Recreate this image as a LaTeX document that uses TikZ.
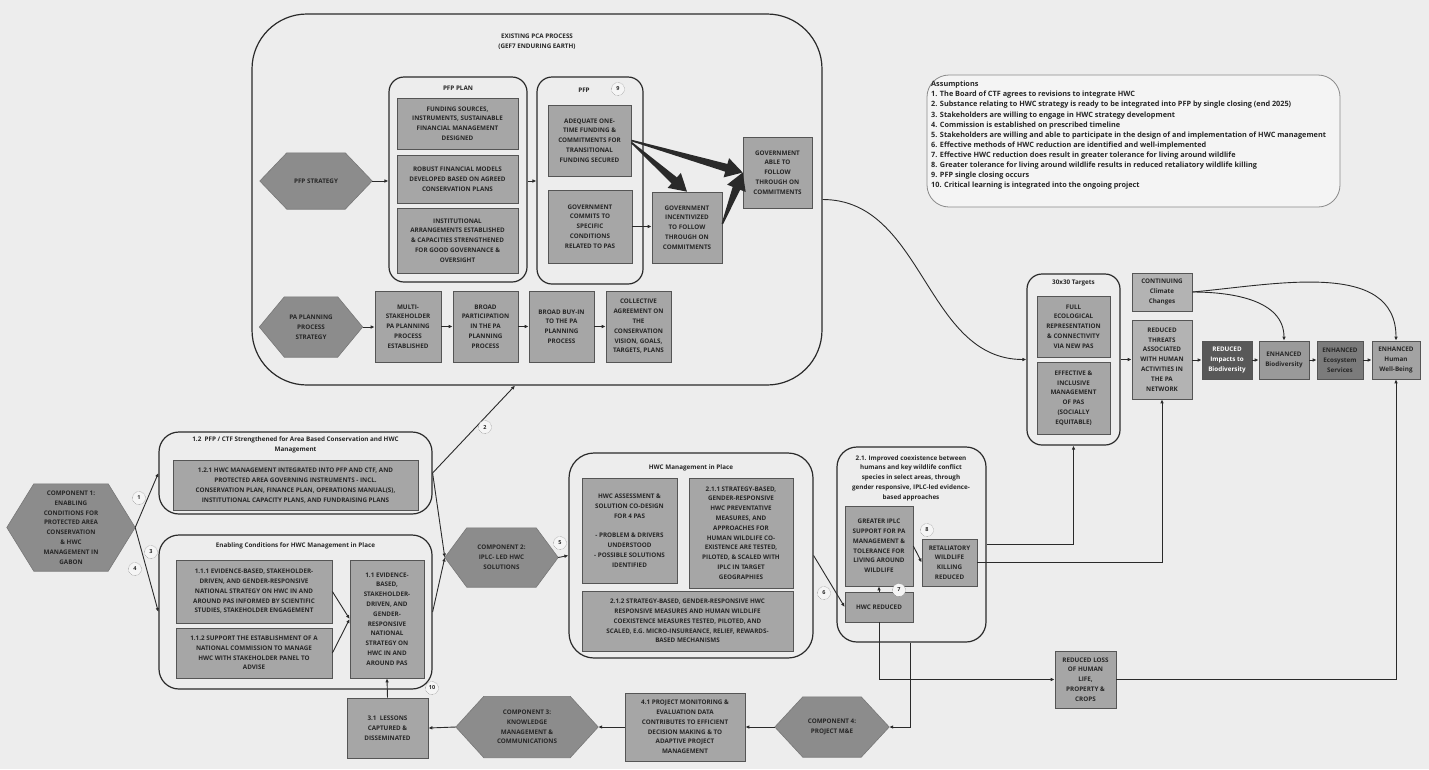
\documentclass[tikz,border=0pt]{standalone}
\usepackage{fontspec}
\setmainfont{Open Sans}
\usetikzlibrary{calc,arrows.meta}
\definecolor{bgc}{HTML}{EDEDED}
\definecolor{boxf}{HTML}{A6A6A6}
\definecolor{boxd}{HTML}{555555}
\definecolor{hexc}{HTML}{8C8C8C}
\definecolor{hexd}{HTML}{777777}
\definecolor{txt}{HTML}{262626}
\definecolor{linec}{HTML}{2A2A2A}
\definecolor{lightf}{HTML}{B3B3B3}
\definecolor{darkf}{HTML}{585858}
\definecolor{midf}{HTML}{9A9A9A}
\definecolor{ecof}{HTML}{7B7B7B}
\definecolor{humf}{HTML}{A3A3A3}
\definecolor{assd}{HTML}{8A8A8A}
\newcommand{\bxf}{\fontsize{6.3}{9.8}\selectfont\bfseries}
\pgfdeclarelayer{paper}
\pgfdeclarelayer{hexl}
\pgfsetlayers{paper,hexl,main}
\newcommand{\hexa}[7]{%
  \node[hext, minimum width=#4, minimum height=#5] (#1) at (#2,#3) {#7};
  \begin{pgfonlayer}{hexl}
  \filldraw[hexs] (#1.west) -- ($(#1.north west)+(#6,0)$) -- ($(#1.north east)+(-#6,0)$) -- (#1.east) -- ($(#1.south east)+(-#6,0)$) -- ($(#1.south west)+(#6,0)$) -- cycle;
  \end{pgfonlayer}}
\newcommand{\fatarrow}[2]{%
  \path (#1) coordinate (fa) (#2) coordinate (fb);
  \coordinate (fc) at ($(fb)!17pt!(fa)$);
  \fill[linec] ($(fa)!0.8pt!90:(fb)$) -- ($(fc)!4pt!-90:(fa)$) -- ($(fc)!10pt!-90:(fa)$) -- (fb) -- ($(fc)!10pt!90:(fa)$) -- ($(fc)!4pt!90:(fa)$) -- ($(fa)!0.8pt!-90:(fb)$) -- cycle;}
\begin{document}
\begin{tikzpicture}[x=1pt,y=-1pt,
  box/.style={draw=boxd, fill=boxf, line width=0.7pt, align=center, inner sep=0pt, font=\bxf, text=txt},
  cont/.style={draw=linec, line width=1.2pt, rounded corners=#1, inner sep=0pt},
  ttl/.style={font=\bxf, text=txt, align=center, inner sep=0pt},
  hext/.style={inner sep=0pt, align=center, font=\bxf, text=txt},
  hexs/.style={fill=hexc, draw=hexd, line width=0.6pt},
  arr/.style={draw=linec, line width=0.9pt, -{Latex[length=4pt,width=3.6pt]}},
  ln/.style={draw=linec, line width=0.9pt},
  numc/.style={circle, draw=boxd, densely dotted, fill=white!92!gray, inner sep=0pt, minimum size=13pt, font=\fontsize{5.5}{6}\selectfont\bfseries, text=txt}]
\begin{pgfonlayer}{paper}
\fill[bgc] (0,0) rectangle (1429,769);
\end{pgfonlayer}
\useasboundingbox (0,0) rectangle (1429,769);

% ---------- Existing PCA process ----------
\node[cont=55, minimum width=570, minimum height=371] (pca) at (537,199.5) {};
\node[ttl] (pcat) at (537,42) {EXISTING PCA PROCESS\\(GEF7 ENDURING EARTH)};
\node[cont=15, minimum width=138, minimum height=205] (pfpplan) at (458,179.5) {};
\node[ttl] (pfpplant) at (458,88) {PFP PLAN};
\node[box, minimum width=121, minimum height=51] (fund) at (457.5,123.5) {FUNDING SOURCES,\\INSTRUMENTS, SUSTAINABLE\\FINANCIAL MANAGEMENT\\DESIGNED};
\node[box, minimum width=121, minimum height=48] (robust) at (457.5,179) {ROBUST FINANCIAL MODELS\\DEVELOPED BASED ON AGREED\\CONSERVATION PLANS};
\node[box, minimum width=121, minimum height=65] (inst) at (457.5,240.5) {INSTITUTIONAL\\ARRANGEMENTS ESTABLISHED\\\& CAPACITIES STRENGTHENED\\FOR GOOD GOVERNANCE \&\\OVERSIGHT};
\node[cont=15, minimum width=106, minimum height=207] (pfp) at (590,180.5) {};
\node[ttl] (pfpt) at (584,90) {PFP};
\node[numc] (n9) at (618,89) {9};
\node[box, minimum width=83, minimum height=71] (adeq) at (589.5,140.5) {ADEQUATE ONE-\\TIME FUNDING \&\\COMMITMENTS FOR\\TRANSITIONAL\\FUNDING SECURED};
\node[box, minimum width=84, minimum height=73] (commits) at (590,226.5) {GOVERNMENT\\COMMITS TO\\SPECIFIC\\CONDITIONS\\RELATED TO PAS};
\node[box, minimum width=70, minimum height=71] (incent) at (687,227.5) {GOVERNMENT\\INCENTIVIZED\\TO FOLLOW\\THROUGH ON\\COMMITMENTS};
\node[box, minimum width=69, minimum height=71] (able) at (777.5,172.5) {GOVERNMENT\\ABLE TO\\FOLLOW\\THROUGH ON\\COMMITMENTS};
\hexa{pfphex}{316}{181}{112}{56}{27}{PFP STRATEGY}
\hexa{pahex}{311}{327}{103}{60}{25}{PA PLANNING\\PROCESS\\STRATEGY}
\node[box, minimum width=66, minimum height=71] (multi) at (408,326.5) {MULTI-\\STAKEHOLDER\\PA PLANNING\\PROCESS\\ESTABLISHED};
\node[box, minimum width=65, minimum height=71] (broadp) at (485.5,326.5) {BROAD\\PARTICIPATION\\IN THE PA\\PLANNING\\PROCESS};
\node[box, minimum width=65, minimum height=71] (buyin) at (561.5,326.5) {BROAD BUY-IN\\TO THE PA\\PLANNING\\PROCESS};
\node[box, minimum width=65, minimum height=71] (collect) at (638.5,326.5) {COLLECTIVE\\AGREEMENT ON\\THE\\CONSERVATION\\VISION, GOALS,\\TARGETS, PLANS};

\draw[arr] (pfphex.east) -- (pfphex.east -| pfpplan.west);
\draw[arr] (pfpplan.east |- pfphex.east) -- (pfp.west |- pfphex.east);
\draw[arr] (commits.east) -- (commits.east -| incent.west);
\fatarrow{adeq.east}{able.west}
\fatarrow{$(adeq.east)+(0,2)$}{incent.north}
\fatarrow{$(incent.north east)!0.45!(incent.south east)$}{able.west}
\draw[arr] (pahex.east) -- (pahex.east -| multi.west);
\draw[arr] (multi.east) -- (broadp.west);
\draw[arr] (broadp.east) -- (buyin.west);
\draw[arr] (buyin.east) -- (collect.west);

% ---------- Assumptions ----------
\node[draw=assd, line width=0.8pt, fill=white!40!bgc, rounded corners=22, minimum width=413, minimum height=132, inner sep=0pt] (assum) at (1133.5,141) {};
\node[anchor=north west, align=left, inner sep=0pt, font=\fontsize{7.3}{10.1}\selectfont\bfseries, text=txt] (assumt) at (931,81) {Assumptions\\
1. The Board of CTF agrees to revisions to integrate HWC\\
2. Substance relating to HWC strategy is ready to be integrated into PFP by single closing (end 2025)\\
3. Stakeholders are willing to engage in HWC strategy development\\
4. Commission is established on prescribed timeline\\
5. Stakeholders are willing and able to participate in the design of and implementation of HWC management\\
6. Effective methods of HWC reduction are identified and well-implemented\\
7. Effective HWC reduction does result in greater tolerance for living around wildlife\\
8. Greater tolerance for living around wildlife results in reduced retaliatory wildlife killing\\
9. PFP single closing occurs\\
10. Critical learning is integrated into the ongoing project};

% ---------- 30x30 and outcomes ----------
\node[cont=15, minimum width=93, minimum height=171] (t30) at (1073.5,359.5) {};
\node[ttl] (t30t) at (1073.5,283) {30x30 Targets};
\node[box, minimum width=73, minimum height=61] (full) at (1073.5,326.5) {FULL\\ECOLOGICAL\\REPRESENTATION\\\& CONNECTIVITY\\VIA NEW PAS};
\node[box, minimum width=73, minimum height=72] (effect) at (1073.5,398) {EFFECTIVE \&\\INCLUSIVE\\MANAGEMENT\\OF PAS\\(SOCIALLY\\EQUITABLE)};
\node[box, fill=lightf, minimum width=60, minimum height=38] (cont) at (1162,292) {CONTINUING\\Climate\\Changes};
\node[box, fill=lightf, minimum width=60, minimum height=79] (threats) at (1162,359.5) {REDUCED\\THREATS\\ASSOCIATED\\WITH HUMAN\\ACTIVITIES IN\\THE PA\\NETWORK};
\node[box, fill=darkf, text=white, minimum width=50, minimum height=38] (impacts) at (1227,360) {REDUCED\\Impacts to\\Biodiversity};
\node[box, fill=midf, minimum width=50, minimum height=38] (enhbio) at (1284,360) {ENHANCED\\Biodiversity};
\node[box, fill=ecof, minimum width=46, minimum height=38] (enheco) at (1340,360) {ENHANCED\\Ecosystem\\Services};
\node[box, fill=humf, minimum width=48, minimum height=38] (enhhum) at (1396,360) {ENHANCED\\Human\\Well-Being};

\draw[arr] (pca.east) to[out=0,in=180] (t30.west);
\draw[arr] (t30.east |- threats.west) -- (threats.west);
\draw[arr] (threats.east |- impacts.west) -- (impacts.west);
\draw[arr] (impacts.east) -- (enhbio.west);
\draw[arr] (enhbio.east) -- (enheco.west);
\draw[arr] (enheco.east) -- (enhhum.west);
\draw[arr] (cont.east) to[out=0,in=90] (enhbio.north);
\draw[arr] (cont.east) to[out=5,in=90] (enhhum.north);

% ---------- Component 1 ----------
\hexa{comp1}{71}{527.5}{128}{87}{27}{COMPONENT 1:\\ENABLING\\CONDITIONS FOR\\PROTECTED AREA\\CONSERVATION\\\& HWC\\MANAGEMENT IN\\GABON}
\node[cont=20, minimum width=273, minimum height=82] (c12) at (295.5,473) {};
\node[ttl] (c12t) at (295.5,445) {1.2\ \ PFP / CTF Strengthened for Area Based Conservation and HWC\\Management};
\node[box, minimum width=245, minimum height=50] (s121) at (295.5,485.5) {1.2.1 HWC MANAGEMENT INTEGRATED INTO PFP AND CTF, AND\\PROTECTED AREA GOVERNING INSTRUMENTS - INCL.\\CONSERVATION PLAN, FINANCE PLAN, OPERATIONS MANUAL(S),\\INSTITUTIONAL CAPACITY PLANS, AND FUNDRAISING PLANS};
\node[cont=20, minimum width=273, minimum height=154] (enab) at (295.5,612) {};
\node[ttl] (enabt) at (295.5,546) {Enabling Conditions for HWC Management in Place};
\node[box, minimum width=156, minimum height=63] (s111) at (254,591.5) {1.1.1 EVIDENCE-BASED, STAKEHOLDER-\\DRIVEN, AND GENDER-RESPONSIVE\\NATIONAL STRATEGY ON HWC IN AND\\AROUND PAS INFORMED BY SCIENTIFIC\\STUDIES, STAKEHOLDER ENGAGEMENT};
\node[box, minimum width=156, minimum height=50] (s112) at (254,653) {1.1.2 SUPPORT THE ESTABLISHMENT OF A\\NATIONAL COMMISSION TO MANAGE\\HWC WITH STAKEHOLDER PANEL TO\\ADVISE};
\node[box, minimum width=74, minimum height=118] (s11) at (387,619) {1.1 EVIDENCE-\\BASED,\\STAKEHOLDER-\\DRIVEN, AND\\GENDER-\\RESPONSIVE\\NATIONAL\\STRATEGY ON\\HWC IN AND\\AROUND PAS};
\node[box, minimum width=81, minimum height=60] (s31) at (387.5,728) {3.1\ \ LESSONS\\CAPTURED \&\\DISSEMINATED};

\draw[arr] (comp1.east) -- (c12.west);
\draw[arr] (comp1.east) -- (enab.west);
\node[numc] (n1) at (139,498) {1};
\node[numc] (n3) at (151,552) {3};
\node[numc] (n4) at (135,569) {4};
\draw[arr] (s111.east) -- (s11.west);
\draw[arr] (s112.east) -- (s11.west);
\draw[arr] (s31.north) -- (s11.south);
\node[numc] (n10) at (432,688) {10};
\draw[arr] (c12.east) -- ($(pca.south)+(-22,0)$);
\node[numc] (n2) at (485,427) {2};

% ---------- Component 2 ----------
\hexa{comp2}{501.5}{557.5}{113}{59}{22}{COMPONENT 2:\\IPLC- LED HWC\\SOLUTIONS}
\draw[arr] (c12.east) -- (comp2.west);
\draw[arr] (enab.east) -- (comp2.west);
\node[cont=25, minimum width=244, minimum height=205] (hwcm) at (691,555.5) {};
\node[ttl] (hwcmt) at (691,468) {HWC Management in Place};
\node[box, minimum width=95, minimum height=105] (assess) at (629.5,530.5) {HWC ASSESSMENT \&\\SOLUTION CO-DESIGN\\FOR 4 PAS\\[9.8pt]- PROBLEM \& DRIVERS\\UNDERSTOOD\\- POSSIBLE SOLUTIONS\\IDENTIFIED};
\node[box, minimum width=104, minimum height=110] (s211) at (741,533) {2.1.1 STRATEGY-BASED,\\GENDER-RESPONSIVE\\HWC PREVENTATIVE\\MEASURES, AND\\APPROACHES FOR\\HUMAN WILDLIFE CO-\\EXISTENCE ARE TESTED,\\PILOTED, \& SCALED WITH\\IPLC IN TARGET\\GEOGRAPHIES};
\node[box, minimum width=211, minimum height=60] (s212) at (687.5,621) {2.1.2 STRATEGY-BASED, GENDER-RESPONSIVE HWC\\RESPONSIVE MEASURES AND HUMAN WILDLIFE\\COEXISTENCE MEASURES TESTED, PILOTED, AND\\SCALED, E.G. MICRO-INSUREANCE, RELIEF, REWARDS-\\BASED MECHANISMS};
\draw[arr] (comp2.east) -- (hwcm.west);
\node[numc] (n5) at (560,543) {5};

% ---------- 2.1 outcome ----------
\node[cont=20, minimum width=149, minimum height=195] (c21) at (911.5,544.5) {};
\node[ttl] (c21t) at (911,478) {2.1. Improved coexistence between\\humans and key wildlife conflict\\species in select areas, through\\gender responsive, IPLC-led evidence-\\based approaches};
\node[box, minimum width=68, minimum height=80] (greater) at (879,546) {GREATER IPLC\\SUPPORT FOR PA\\MANAGEMENT \&\\TOLERANCE FOR\\LIVING AROUND\\WILDLIFE};
\node[box, minimum width=55, minimum height=47] (retal) at (949.5,562.5) {RETALIATORY\\WILDLIFE\\KILLING\\REDUCED};
\node[box, minimum width=68, minimum height=30] (hwcred) at (879,607) {HWC REDUCED};
\node[numc] (n8) at (927,530) {8};
\node[numc] (n7) at (899,590) {7};
\draw[arr] (hwcm.east) -- (hwcred.west);
\node[numc] (n6) at (824,593) {6};
\draw[arr] (hwcred.north) -- (greater.south);
\draw[arr] (greater.east) -- (retal.west);
\draw[arr] (c21.east) -| (t30.south);
\draw[arr] (retal.east) -| (threats.south);

\node[box, minimum width=61, minimum height=57] (redloss) at (1085.5,679.5) {REDUCED LOSS\\OF HUMAN\\LIFE,\\PROPERTY \&\\CROPS};
\draw[arr] (hwcred.south) |- (redloss.west);
\draw[arr] (redloss.east) -| (enhhum.south);

% ---------- Components 3 and 4 ----------
\hexa{comp4}{832}{727}{114}{60}{28}{COMPONENT 4:\\PROJECT M\&E}
\node[box, minimum width=120, minimum height=68] (s41) at (685,727) {4.1 PROJECT MONITORING \&\\EVALUATION DATA\\CONTRIBUTES TO EFFICIENT\\DECISION MAKING \& TO\\ADAPTIVE PROJECT\\MANAGEMENT};
\hexa{comp3}{527}{727}{142}{61}{28}{COMPONENT 3:\\KNOWLEDGE\\MANAGEMENT \&\\COMMUNICATIONS}
\draw[arr] ($(c21.south)+(-1.5,0)$) |- (comp4.east);
\draw[arr] (comp4.west) -- (s41.east);
\draw[arr] (s41.west) -- (comp3.east);
\draw[arr] (comp3.west) -- (s31.east);
\end{tikzpicture}
\end{document}
